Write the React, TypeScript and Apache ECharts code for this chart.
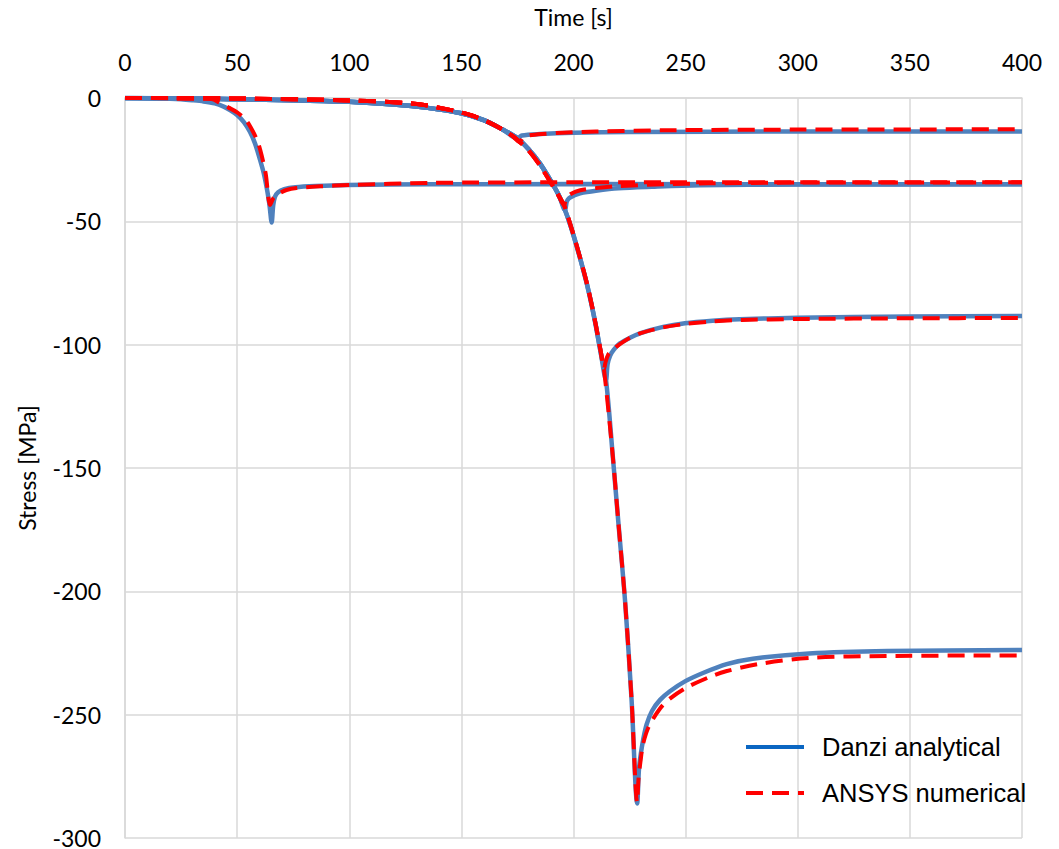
import React, { useEffect, useRef } from "react";
import * as echarts from "echarts";

// Axis settings
const timeRange = [0, 400];
const timeStep = 50;
const stressRange = [-300, 0];
const stressStep = 50;

const legendNames = ["Danzi analytical", "ANSYS numerical"];

// ---- Danzi analytical (blue) ----
const blueCurveA: number[][] = [
  [0, 0], [10, -0.1], [20, -0.3], [25, -0.5], [30, -0.9], [35, -1.4], [40, -2.2], [44, -3.5],
  [47, -5], [50, -6.9], [53, -9.8], [55.7, -13.7], [58, -18.5], [60.2, -25], [62, -31],
  [63.5, -38], [64.5, -44], [65.4, -50.5], [66.1, -43.5], [66.9, -40], [68.3, -38.2],
  [71, -37], [76, -36.2], [85, -35.7], [99, -35.3], [136, -35], [200, -34.9], [400, -35.0],
];
const blueLoad1: number[][] = [
  [0, 0], [25, -0.2], [50, -0.5], [75, -0.9], [100, -1.5], [120, -2.6], [135, -4.0],
  [150, -6.2], [160, -9.0], [168, -12.6], [175, -16.3],
];
const blueTailB: number[][] = [
  [177, -15.2], [185, -14.6], [200, -14.1], [225, -13.8], [300, -13.6], [400, -13.6],
];
const blueLoad2: number[][] = [
  [180, -20.8], [185, -26.5], [190, -33.8], [193.5, -39.5], [196.2, -45.4],
];
const blueTailC: number[][] = [
  [197, -42], [198, -40.6], [200.5, -39.4], [203, -38.6], [210, -37.6], [220, -36.6],
  [235, -36], [256, -35.4], [300, -35.1], [400, -35.0],
];
const blueLoad3: number[][] = [
  [198.5, -51.3], [201.4, -60], [204, -68.5], [206, -75.5], [208, -83.5], [210, -92.5],
  [212, -102.5], [214.5, -114.3],
];
const blueTailD: number[][] = [
  [215.2, -108], [216.3, -104.5], [218, -102], [220.7, -99.5], [225, -97.3], [229.6, -95.4],
  [240, -92.8], [249.7, -91.3], [262, -90.3], [274, -89.7], [300, -89.1], [350, -88.6], [400, -88.4],
];
const blueLoad4: number[][] = [
  [217.5, -145], [220, -172], [223, -204], [225.9, -244], [228.4, -286],
];
const blueTailE: number[][] = [
  [229.2, -272], [230, -266], [231.1, -260], [232.6, -254], [235, -248.5], [238.6, -244],
  [243, -240.5], [249.7, -236.5], [258, -233], [268.3, -229.5], [280, -227.3], [305, -225.2],
  [340, -224.2], [400, -223.8],
];

// ---- ANSYS numerical (red) ----
const redCurveA: number[][] = [
  [0, 0], [20, -0.1], [38.5, -0.4], [42, -1.8], [46, -3.8], [50, -5.8], [54, -9], [57, -13.5],
  [59.3, -18], [61, -23.5], [62.8, -31], [64.7, -43.4], [66.2, -40.5], [68.9, -38.6], [72, -37.3],
  [76.5, -36.5], [87, -35.8], [100, -35.3], [136, -34.4], [200, -34.2], [400, -34.2],
];
const redLoad1: number[][] = [
  [0, 0], [50, -0.2], [100, -1.0], [128, -2.2], [145, -4.8], [155, -7.2], [162, -9.8],
  [168, -12.6], [172.5, -15.2], [176, -17.8],
];
const redTailB: number[][] = [
  [177.5, -16], [180, -15.2], [186, -14.6], [195, -14.1], [210, -13.6], [240, -13.1],
  [300, -12.8], [400, -12.7],
];
const redLoad2: number[][] = [
  [180, -21.3], [185, -27.3], [190, -34.5], [193, -39], [195.8, -43.5],
];
const redTailC: number[][] = [
  [196.8, -40.5], [199, -38.8], [203, -37.4], [210, -36.5], [220, -35.7], [240, -35],
  [260, -34.6], [300, -34.3], [400, -34.2],
];
const redLoad3: number[][] = [
  [198.5, -51], [201.4, -59.8], [204, -68.3], [206, -75.3], [208, -83.3], [210, -92.3],
  [212, -102], [213.6, -110],
];
const redTailD: number[][] = [
  [214.3, -107], [215.5, -104], [217, -102.5], [219.2, -100.8], [222, -99], [225, -97.3],
  [230, -95.3], [240, -93], [250, -91.6], [262, -90.6], [275, -90], [300, -89.6], [350, -89.3],
  [400, -89.2],
];
const redLoad4: number[][] = [
  [217.5, -145], [220, -172], [223, -204], [225.9, -244], [228.4, -285.5],
];
const redTailE: number[][] = [
  [229, -276], [230, -268], [231, -262], [233.5, -255], [238.6, -247.5], [243, -243.5],
  [250, -239.2], [261, -234.6], [268, -232.4], [283, -229.4], [305, -227], [340, -226.2], [400, -226],
];

const BLUE = "#4F81BD";
const BLUE_LEGEND = "#0A66C2";
const RED = "#FF0000";
const GRID = "#D9D9D9";
const AXIS_FONT = "Lato, 'Open Sans', sans-serif";
const LEGEND_FONT = "'Liberation Sans', Arial, sans-serif";

function blueSeries(data: number[][]) {
  return {
    type: "line",
    name: legendNames[0],
    data,
    symbol: "none",
    smooth: 0.3,
    z: 2,
    lineStyle: { color: BLUE, width: 4.5 },
    itemStyle: { color: BLUE },
  };
}
function redSeries(data: number[][]) {
  return {
    type: "line",
    name: legendNames[1],
    data,
    symbol: "none",
    smooth: 0.3,
    z: 3,
    lineStyle: { color: RED, width: 4, type: [17, 9] },
    itemStyle: { color: RED },
  };
}

export default function App() {
  const ref = useRef<HTMLDivElement>(null);
  useEffect(() => {
    if (!ref.current) return;
    const chart = echarts.init(ref.current, undefined, { renderer: "svg" });
    const blueCurves = [
      blueCurveA,
      [...blueLoad1, ...blueTailB],
      [...blueLoad1, ...blueLoad2, ...blueTailC],
      [...blueLoad1, ...blueLoad2, ...blueLoad3, ...blueTailD],
      [...blueLoad1, ...blueLoad2, ...blueLoad3, ...blueLoad4, ...blueTailE],
    ];
    const redCurves = [
      redCurveA,
      [...redLoad1, ...redTailB],
      [...redLoad1, ...redLoad2, ...redTailC],
      [...redLoad1, ...redLoad2, ...redLoad3, ...redTailD],
      [...redLoad1, ...redLoad2, ...redLoad3, ...redLoad4, ...redTailE],
    ];
    chart.setOption({
      animation: false,
      backgroundColor: "#ffffff",
      grid: { left: 125, right: 37, top: 98, bottom: 11, outerBoundsMode: "none", containLabel: false },
      xAxis: {
        type: "value",
        position: "top",
        min: timeRange[0],
        max: timeRange[1],
        interval: timeStep,
        name: "Time [s]",
        nameLocation: "middle",
        nameGap: 70,
        nameTextStyle: { fontFamily: AXIS_FONT, fontSize: 23, color: "#000" },
        axisLine: { show: true, onZero: false, lineStyle: { color: GRID, width: 1.5 } },
        axisTick: { show: false },
        axisLabel: { fontFamily: AXIS_FONT, fontSize: 23, color: "#000", margin: 25 },
        splitLine: { show: true, lineStyle: { color: GRID, width: 1.5 } },
      },
      yAxis: {
        type: "value",
        min: stressRange[0],
        max: stressRange[1],
        interval: stressStep,
        name: "Stress [MPa]",
        nameLocation: "middle",
        nameRotate: 90,
        nameGap: 87,
        nameTextStyle: { fontFamily: AXIS_FONT, fontSize: 23, color: "#000" },
        axisLine: { show: true, onZero: false, lineStyle: { color: GRID, width: 1.5 } },
        axisTick: { show: false },
        axisLabel: { fontFamily: AXIS_FONT, fontSize: 23, lineHeight: 20, color: "#000", margin: 24 },
        splitLine: { show: true, lineStyle: { color: GRID, width: 1.5 } },
      },
      legend: {
        orient: "vertical",
        left: 739,
        top: 728,
        itemWidth: 58,
        itemHeight: 8,
        itemGap: 18,
        textStyle: {
          fontFamily: LEGEND_FONT,
          fontSize: 25.5,
          lineHeight: 28,
          color: "#000",
          padding: [0, 0, 0, 13],
        },
        data: [
          {
            name: legendNames[0],
            lineStyle: { color: BLUE_LEGEND, width: 4 },
            itemStyle: { color: BLUE_LEGEND, opacity: 0 },
          },
          {
            name: legendNames[1],
            lineStyle: { color: RED, width: 4, type: [17, 9] },
            itemStyle: { color: RED, opacity: 0 },
          },
        ],
      },
      series: [...blueCurves.map(blueSeries), ...redCurves.map(redSeries)],
    });
    return () => chart.dispose();
  }, []);
  return (
    <div
      ref={ref}
      style={{ position: "fixed", left: 0, top: 0, width: 1059, height: 849, background: "#fff" }}
    />
  );
}
